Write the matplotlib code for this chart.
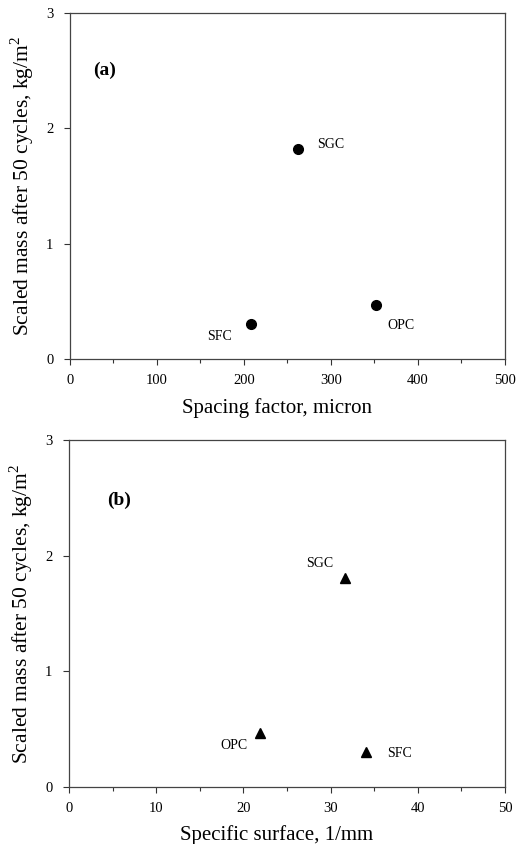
import matplotlib
matplotlib.use("Agg")
import matplotlib.pyplot as plt
from matplotlib.ticker import MultipleLocator

plt.rcParams['font.family'] = ['Liberation Serif', 'DejaVu Serif']
plt.rcParams['mathtext.fontset'] = 'custom'
plt.rcParams['mathtext.rm'] = 'Liberation Serif'

mixes_a = ["SFC", "SGC", "OPC"]
spacing_factor = [208, 262, 352]
mass_a = [0.30, 1.82, 0.47]

mixes_b = ["OPC", "SGC", "SFC"]
specific_surface = [21.9, 31.6, 34.1]
mass_b = [0.47, 1.81, 0.30]

# label offsets in points (dx, dy), alignment
offs_a = {"SFC": ((-23, -9), 'center'), "SGC": ((14, 3), 'left'), "OPC": ((18, -15), 'center')}
offs_b = {"OPC": ((-19, -9), 'center'), "SGC": ((-18, 10), 'center'), "SFC": ((24, -1), 'center')}

fig = plt.figure(figsize=(5.29, 8.44), dpi=100)
ax1 = fig.add_axes([0.1323, 0.5746, 0.8223, 0.41])
ax2 = fig.add_axes([0.1304, 0.0675, 0.8242, 0.4112])

ylab = "Scaled mass after 50 cycles, kg/m$^2$"

def style(ax, xmax, xmajor, xminor):
    ax.set_xlim(0, xmax)
    ax.set_ylim(0, 3)
    ax.xaxis.set_major_locator(MultipleLocator(xmajor))
    ax.xaxis.set_minor_locator(MultipleLocator(xminor))
    ax.yaxis.set_major_locator(MultipleLocator(1))
    ax.tick_params(axis='both', which='both', direction='out', labelsize=10.5,
                   top=False, right=False, width=0.8, color='#333333')
    ax.tick_params(axis='x', which='major', length=4, pad=7)
    ax.tick_params(axis='y', which='major', length=4, pad=8)
    ax.tick_params(which='minor', length=3)
    for s in ax.spines.values():
        s.set_linewidth(0.9)
        s.set_color('#444444')
    ax.set_ylabel(ylab, fontsize=15.5, labelpad=7)

style(ax1, 500, 100, 50)
ax1.plot(spacing_factor, mass_a, 'o', color='black', markersize=7, linestyle='none')
for m, x, y in zip(mixes_a, spacing_factor, mass_a):
    (dx, dy), ha = offs_a[m]
    ax1.annotate(m, (x, y), xytext=(dx, dy), textcoords='offset points',
                 ha=ha, va='center', fontsize=10)
ax1.set_xlabel("Spacing factor, micron", fontsize=15, labelpad=8)
ax1.xaxis.label.set_x(0.477)
ax1.text(0.053, 0.835, "(a)", transform=ax1.transAxes, fontsize=14,
         fontweight='bold', ha='left', va='center')

style(ax2, 50, 10, 5)
ax2.plot(specific_surface, mass_b, '^', color='black', markersize=6.5, linestyle='none')
for m, x, y in zip(mixes_b, specific_surface, mass_b):
    (dx, dy), ha = offs_b[m]
    ax2.annotate(m, (x, y), xytext=(dx, dy), textcoords='offset points',
                 ha=ha, va='center', fontsize=10)
ax2.set_xlabel("Specific surface, 1/mm", fontsize=15, labelpad=7)
ax2.xaxis.label.set_x(0.477)
ax2.text(0.087, 0.827, "(b)", transform=ax2.transAxes, fontsize=14,
         fontweight='bold', ha='left', va='center')

fig.savefig("out.png", dpi=100)
